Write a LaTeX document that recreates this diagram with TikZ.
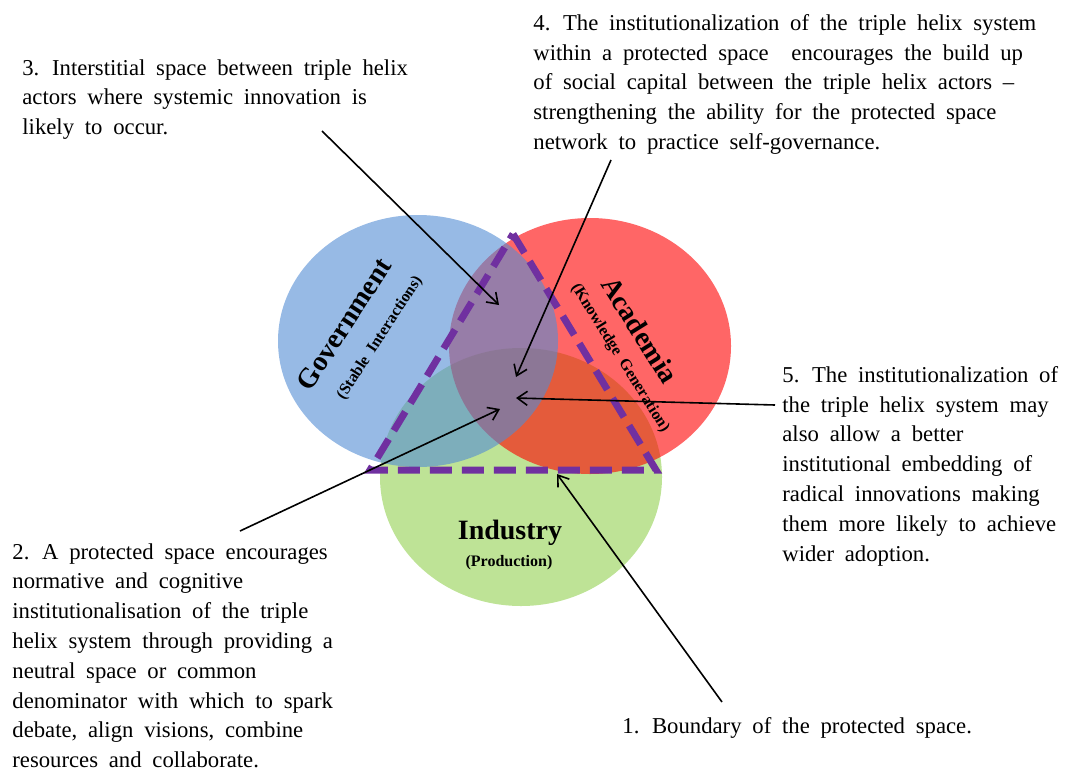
\documentclass[tikz,border=0pt]{standalone}
\usepackage{fontspec}
\setmainfont{Liberation Serif}
\newfontfamily\notefamily{Liberation Serif}[WordSpace=1.9, Ligatures=TeX]
\usetikzlibrary{arrows.meta}
\definecolor{govblue}{RGB}{82,140,212}
\definecolor{acared}{RGB}{255,0,0}
\definecolor{indgreen}{RGB}{146,208,80}
\definecolor{spacepurple}{RGB}{112,48,160}
\tikzset{
  helix/.style={fill opacity=0.6},
  note/.style={anchor=north west, align=left, inner sep=0pt,
    font=\notefamily\fontsize{11.35}{14.9}\selectfont},
  pointer/.style={line width=0.8pt, -{Straight Barb[length=5pt,width=7pt]}},
  actor/.style={inner sep=0pt, font=\fontsize{14}{16}\selectfont\bfseries},
  role/.style={inner sep=0pt, font=\fontsize{8}{9}\selectfont\bfseries},
}
\begin{document}
\begin{tikzpicture}[x=0.5pt,y=-0.5pt]
		\useasboundingbox (0,0) rectangle (1075,771);
		
		% Draw the three helix actors
		\fill[helix, indgreen] (521,477) ellipse [x radius=141, y radius=129];
		\fill[helix, acared] (590,346) ellipse [x radius=141, y radius=128];
		\fill[helix, govblue] (418,341) ellipse [x radius=140, y radius=126];
		
		% Actor names
		\node[actor, rotate=57] (gov) at (344,324) {Government};
		\node[role, rotate=57] (govrole) at (380,338) {(Stable Interactions)};
		\node[actor, rotate=-58] (aca) at (640,330) {Academia};
		\node[role, rotate=-58] (acarole) at (620,358) {(Knowledge Generation)};
		\node[actor] (ind) at (510,533) {Industry};
		\node[role] (indrole) at (509,563) {(Production)};
		
		% Protected space
		\coordinate (apex) at (513,234);
		\coordinate (left) at (370,470);
		\coordinate (right) at (656,470);
		\draw[spacepurple, line width=3.5pt, dash pattern=on 11pt off 5pt]
			(apex) -- (right) -- (left) -- cycle;
		
		% Notes
		\node[note] (lab1) at (622,717) {1. Boundary of the protected space.};
		\node[note] (lab2) at (12,543) {2. A protected space encourages\\
			normative and cognitive\\
			institutionalisation of the triple\\
			helix system through providing a\\
			neutral space or common\\
			denominator with which to spark\\
			debate, align visions, combine\\
			resources and collaborate.};
		\node[note] (lab3) at (22,59) {3. Interstitial space between triple helix\\
			actors where systemic innovation is\\
			likely to occur.};
		\node[note] (lab4) at (533,14) {4. The institutionalization of the triple helix system\\
			within a protected space\hspace{1em}encourages the build up\\
			of social capital between the triple helix actors \textendash\\
			strengthening the ability for the protected space\\
			network to practice self-governance.};
		\node[note] (lab5) at (782,366) {5. The institutionalization of\\
			the triple helix system may\\
			also allow a better\\
			institutional embedding of\\
			radical innovations making\\
			them more likely to achieve\\
			wider adoption.};
		
		% Arrow ends
		\coordinate (from1) at (722,702);
		\coordinate (to1) at (557,474);
		\coordinate (from2) at (240,531);
		\coordinate (to2) at (500,409);
		\coordinate (from3) at (322,131);
		\coordinate (to3) at (499,305);
		\coordinate (from4) at (611,160);
		\coordinate (to4) at (516,377);
		\coordinate (from5) at (775,405);
		\coordinate (to5) at (516,398);
		
		% Draw pointers
		\draw[pointer] (from1) -- (to1);
		\draw[pointer] (from2) -- (to2);
		\draw[pointer] (from3) -- (to3);
		\draw[pointer] (from4) -- (to4);
		\draw[pointer] (from5) -- (to5);
		
	\end{tikzpicture}
\end{document}
